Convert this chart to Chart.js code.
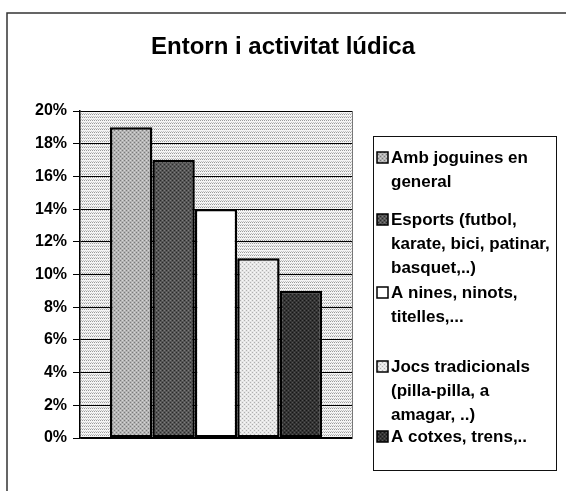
<!DOCTYPE html>
<html><head><meta charset="utf-8">
<script src="https://cdn.jsdelivr.net/npm/chart.js@4.4.1/dist/chart.umd.min.js"></script>
<style>html,body{margin:0;padding:0;background:#fff;}#wrap{position:relative;width:566px;height:491px;}</style>
</head><body><div id="wrap"><canvas id="c" width="566" height="491"></canvas></div>
<script>
const titleText = 'Entorn i activitat lúdica';
const categories = [''];
const seriesLabels = [
  ['Amb joguines en', 'general'],
  ['Esports (futbol,', 'karate, bici, patinar,', 'basquet,..)'],
  ['A nines, ninots,', 'titelles,...'],
  ['Jocs tradicionals', '(pilla-pilla, a', 'amagar, ..)'],
  ['A cotxes, trens,..']
];
const seriesValues = [19, 17, 14, 11, 9];
const yTickValues = [0, 2, 4, 6, 8, 10, 12, 14, 16, 18, 20];

// texture tiles: [base, dot color A, dot color B]
const tones = [
  ['#b4b4b4', '#7a7a7a', '#d6d6d6'],
  ['#565656', '#2a2a2a', '#7c7c7c'],
  ['#ffffff', '#ffffff', '#ffffff'],
  ['#e6e6e6', '#b0b0b0', '#f8f8f8'],
  ['#343434', '#161616', '#555555']
];
function makePattern(ctx, t) {
  const c = document.createElement('canvas');
  c.width = 4; c.height = 4;
  const g = c.getContext('2d');
  g.fillStyle = t[0]; g.fillRect(0, 0, 4, 4);
  g.fillStyle = t[1]; g.fillRect(0, 0, 1, 1); g.fillRect(2, 2, 1, 1);
  g.fillStyle = t[2]; g.fillRect(2, 0, 1, 1); g.fillRect(0, 2, 1, 1);
  return ctx.createPattern(c, 'repeat');
}
function makeBgPattern(ctx) {
  const c = document.createElement('canvas');
  c.width = 4; c.height = 3;
  const g = c.getContext('2d');
  g.fillStyle = '#f4f4f4'; g.fillRect(0, 0, 4, 3);
  g.fillStyle = '#9a9a9a'; g.fillRect(0, 0, 1, 1); g.fillRect(2, 0, 1, 1);
  g.fillStyle = '#c4c4c4'; g.fillRect(1, 2, 1, 1); g.fillRect(3, 2, 1, 1);
  return ctx.createPattern(c, 'repeat');
}

const canvas = document.getElementById('c');
const ctx0 = canvas.getContext('2d');
const patterns = tones.map(t => makePattern(ctx0, t));
const bgPattern = makeBgPattern(ctx0);
const FONT = '"Liberation Sans", Arial, sans-serif';

const plotBg = {
  id: 'plotBg',
  beforeDraw(chart) {
    const { ctx, chartArea: a } = chart;
    ctx.save();
    ctx.fillStyle = bgPattern;
    ctx.fillRect(a.left, a.top, a.right - a.left, a.bottom - a.top);
    ctx.restore();
  },
  afterDatasetsDraw(chart) {
    const { ctx, chartArea: a } = chart;
    ctx.save();
    ctx.strokeStyle = '#777';
    ctx.lineWidth = 1;
    ctx.beginPath();
    ctx.moveTo(Math.round(a.right) + 0.5, a.top);
    ctx.lineTo(Math.round(a.right) + 0.5, a.bottom);
    ctx.stroke();
    ctx.restore();
  }
};

const frameAndLegend = {
  id: 'frameAndLegend',
  afterDraw(chart) {
    const ctx = chart.ctx;
    ctx.save();
    // outer frame (top & left visible)
    ctx.strokeStyle = '#333';
    ctx.lineWidth = 1.5;
    ctx.beginPath();
    ctx.moveTo(7, 491); ctx.lineTo(7, 13); ctx.lineTo(566, 13);
    ctx.stroke();
    // title
    ctx.fillStyle = '#000';
    ctx.font = 'bold 24px ' + FONT;
    ctx.textAlign = 'center';
    ctx.textBaseline = 'middle';
    ctx.fillText(titleText, 283, 47);
    // legend box
    const bx = 373, by = 136, bw = 183, bh = 334;
    ctx.fillStyle = '#fff';
    ctx.fillRect(bx, by, bw, bh);
    ctx.strokeStyle = '#111';
    ctx.lineWidth = 1;
    ctx.strokeRect(bx + 0.5, by + 0.5, bw, bh);
    const starts = [158, 220, 293, 367, 437];
    const lineH = 24;
    ctx.font = 'bold 17px ' + FONT;
    ctx.textBaseline = 'middle';
    ctx.textAlign = 'left';
    chart.data.datasets.forEach((ds, i) => {
      const y0 = starts[i];
      ctx.fillStyle = ds.backgroundColor;
      ctx.fillRect(377, y0 - 6, 11, 11);
      ctx.strokeStyle = '#000';
      ctx.lineWidth = 1.5;
      ctx.strokeRect(377, y0 - 6, 11, 11);
      ctx.fillStyle = '#000';
      seriesLabels[i].forEach((ln, j) => {
        ctx.fillText(ln, 391, y0 + j * lineH);
      });
    });
    ctx.restore();
  }
};

new Chart(canvas, {
  type: 'bar',
  data: {
    labels: categories,
    datasets: seriesLabels.map((lines, i) => ({
      label: lines.join(' '),
      data: [seriesValues[i]],
      backgroundColor: patterns[i],
      borderColor: '#000',
      borderWidth: 2.5,
      borderSkipped: false,
      categoryPercentage: 0.78,
      barPercentage: 1.0
    }))
  },
  options: {
    responsive: false,
    devicePixelRatio: 1,
    animation: false,
    layout: { padding: { left: 10, right: 214, top: 111, bottom: 53 } },
    plugins: {
      legend: { display: false },
      tooltip: { enabled: false },
      title: { display: false }
    },
    scales: {
      x: {
        ticks: { display: false },
        grid: { display: false },
        border: { display: true, color: '#000', width: 1.5 },
        afterFit(s) { s.height = 0; }
      },
      y: {
        min: yTickValues[0],
        max: yTickValues[yTickValues.length - 1],
        afterBuildTicks(s) { s.ticks = yTickValues.map(v => ({ value: v })); },
        ticks: {
          color: '#000',
          padding: 6,
          font: { family: FONT, size: 16, weight: 'bold' },
          callback: v => v + '%'
        },
        grid: { color: '#000', lineWidth: 1, tickLength: 7, drawTicks: true },
        border: { display: true, color: '#000', width: 1.5 },
        afterFit(s) { s.width = 70; }
      }
    }
  },
  plugins: [plotBg, frameAndLegend]
});
</script>
</body></html>
